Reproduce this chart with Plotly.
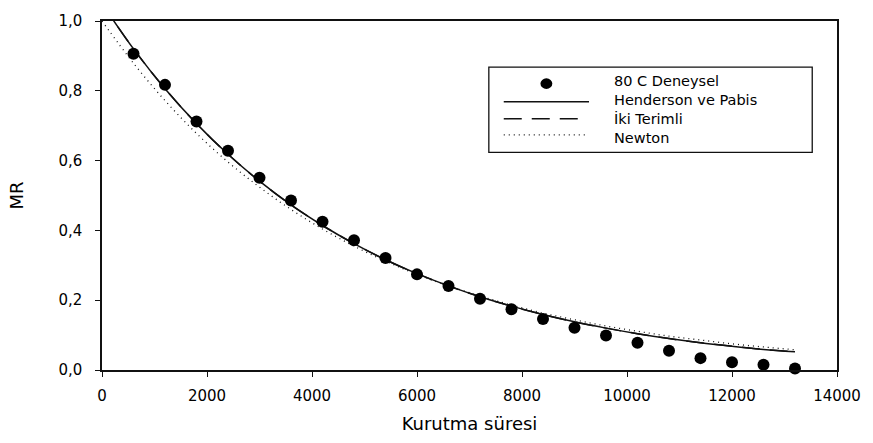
import plotly.graph_objects as go

# Drying time (s) and measured moisture ratio at 80 C
sure = [600, 1200, 1800, 2400, 3000, 3600, 4200, 4800, 5400, 6000, 6600,
        7200, 7800, 8400, 9000, 9600, 10200, 10800, 11400, 12000, 12600, 13200]
mr_deneysel = [0.906, 0.817, 0.712, 0.628, 0.551, 0.486, 0.425, 0.372, 0.321,
               0.274, 0.241, 0.204, 0.174, 0.146, 0.121, 0.099, 0.078, 0.055,
               0.034, 0.022, 0.015, 0.004]

# Model curves sampled along the drying time
model_sure = [0, 600, 1200, 1800, 2400, 3000, 3600, 4200, 4800, 5400, 6000,
              6600, 7200, 7800, 8400, 9000, 9600, 10200, 10800, 11400, 12000,
              12600, 13200]
henderson_pabis = [1.050, 0.920, 0.806, 0.706, 0.618, 0.541, 0.473, 0.414,
                   0.362, 0.316, 0.276, 0.241, 0.210, 0.183, 0.159, 0.138,
                   0.120, 0.104, 0.090, 0.078, 0.068, 0.059, 0.052]
iki_terimli = [1.050, 0.920, 0.806, 0.706, 0.618, 0.541, 0.473, 0.414,
               0.362, 0.316, 0.276, 0.241, 0.210, 0.183, 0.159, 0.138,
               0.120, 0.104, 0.090, 0.078, 0.068, 0.059, 0.052]
newton = [1.000, 0.879, 0.772, 0.678, 0.596, 0.524, 0.460, 0.404, 0.355,
          0.312, 0.274, 0.241, 0.212, 0.186, 0.163, 0.144, 0.126, 0.111,
          0.097, 0.086, 0.075, 0.066, 0.058]

legend_labels = ["80 C Deneysel", "Henderson ve Pabis", "İki Terimli", "Newton"]

FONT = "DejaVu Sans"
INK = "#111111"

fig = go.Figure()
fig.add_trace(go.Scatter(x=model_sure, y=henderson_pabis, mode="lines",
                         line=dict(color=INK, width=1.5, shape="spline"),
                         name=legend_labels[1], showlegend=False))
fig.add_trace(go.Scatter(x=model_sure, y=iki_terimli, mode="lines",
                         line=dict(color=INK, width=1.5, shape="spline",
                                   dash="18px,10px"),
                         name=legend_labels[2], showlegend=False))
fig.add_trace(go.Scatter(x=model_sure, y=newton, mode="lines",
                         line=dict(color=INK, width=1.3, shape="spline",
                                   dash="1px,4px"),
                         name=legend_labels[3], showlegend=False))
fig.add_trace(go.Scatter(x=sure, y=mr_deneysel, mode="markers",
                         marker=dict(color="black", size=12),
                         cliponaxis=False,
                         name=legend_labels[0], showlegend=False))

# Hand-drawn legend box in the upper right of the plot area
shapes = [
    dict(type="rect", xref="paper", yref="paper", x0=0.5263, x1=0.9663,
         y0=0.6236, y1=0.8681, line=dict(color=INK, width=1.3),
         fillcolor="white", layer="above"),
    dict(type="circle", xref="paper", yref="paper", x0=0.6046 - 0.0081,
         x1=0.6046 + 0.0081, y0=0.8206 - 0.0151, y1=0.8206 + 0.0151,
         fillcolor="black", line=dict(color="black", width=0), layer="above"),
    dict(type="line", xref="paper", yref="paper", x0=0.5466, x1=0.6626,
         y0=0.7684, y1=0.7684, line=dict(color=INK, width=1.5), layer="above"),
    dict(type="line", xref="paper", yref="paper", x0=0.5466, x1=0.6532,
         y0=0.7198, y1=0.7198, line=dict(color=INK, width=1.5, dash="18px,10px"),
         layer="above"),
    dict(type="line", xref="paper", yref="paper", x0=0.5466, x1=0.6599,
         y0=0.6739, y1=0.6739, line=dict(color=INK, width=1.3, dash="1px,4px"),
         layer="above"),
]
# Legend entries as one block of lines next to their symbols
annotations = [
    dict(xref="paper", yref="paper", x=0.6937, y=0.7459,
         text="<br>".join(legend_labels), showarrow=False, align="left",
         xanchor="left", yanchor="middle",
         font=dict(family=FONT, size=14.5, color="black"))
]

axis_common = dict(
    showline=True, linecolor=INK, linewidth=1.5, mirror=True,
    ticks="outside", ticklen=5, tickwidth=1.3, tickcolor=INK,
    showgrid=False, zeroline=False,
    tickfont=dict(family=FONT, size=15, color="black"),
)

fig.update_layout(
    width=873, height=443,
    margin=dict(l=102, r=30, t=14, b=65),
    paper_bgcolor="white", plot_bgcolor="white",
    separators=",.",
    shapes=shapes, annotations=annotations,
    xaxis=dict(range=[0, 14000], dtick=2000, tickformat="d",
               ticklabelstandoff=6,
               title=dict(text="Kurutma süresi", standoff=14,
                          font=dict(family=FONT, size=18, color="black")),
               **axis_common),
    yaxis=dict(range=[0, 1], dtick=0.2, tickformat=".1f",
               ticklabelstandoff=10,
               title=dict(text="MR", standoff=30,
                          font=dict(family=FONT, size=18, color="black")),
               **axis_common),
)

fig.write_html("out.html")
